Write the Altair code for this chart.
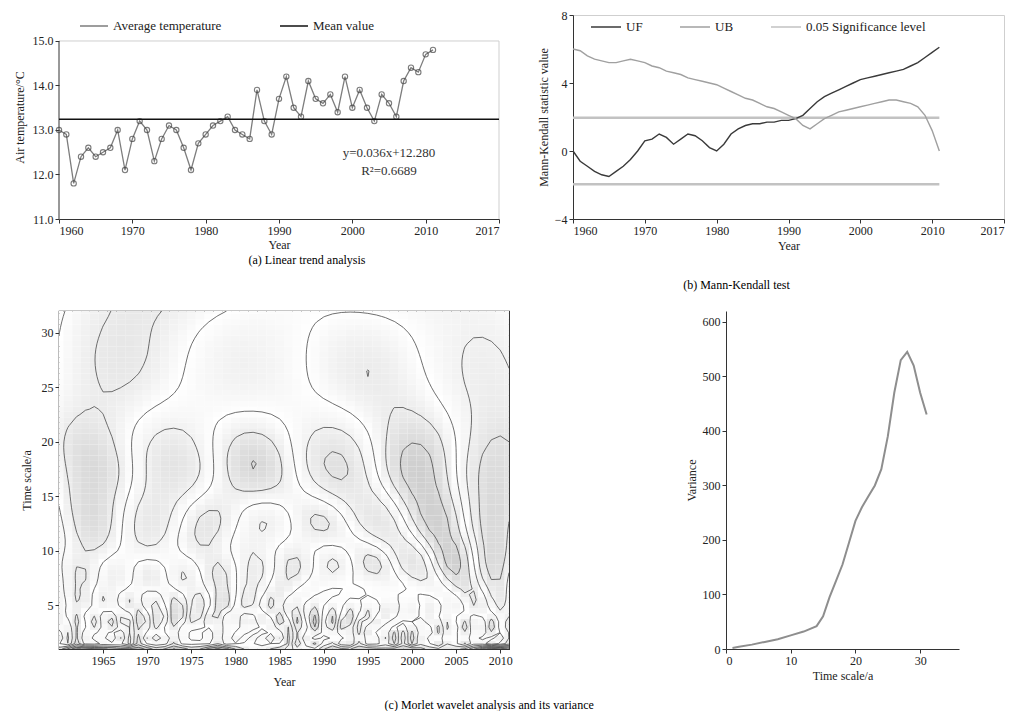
import altair as alt
import numpy as np
import pandas as pd

FONT = "Liberation Serif"

# ---------------- data ----------------
years = list(range(1960, 2012))
temperature = [13.0, 12.9, 11.8, 12.4, 12.6, 12.4, 12.5, 12.6, 13.0, 12.1,
               12.8, 13.2, 13.0, 12.3, 12.8, 13.1, 13.0, 12.6, 12.1, 12.7,
               12.9, 13.1, 13.2, 13.3, 13.0, 12.9, 12.8, 13.9, 13.2, 12.9,
               13.7, 14.2, 13.5, 13.3, 14.1, 13.7, 13.6, 13.8, 13.4, 14.2,
               13.5, 13.9, 13.5, 13.2, 13.8, 13.6, 13.3, 14.1, 14.4, 14.3,
               14.7, 14.8]
uf = [0.0, -0.6, -0.9, -1.2, -1.4, -1.5, -1.2, -0.9, -0.5, 0.0,
      0.6, 0.7, 1.0, 0.8, 0.4, 0.7, 1.0, 0.9, 0.6, 0.2,
      0.0, 0.4, 1.0, 1.3, 1.5, 1.6, 1.6, 1.7, 1.7, 1.8,
      1.8, 1.9, 2.1, 2.5, 2.9, 3.2, 3.4, 3.6, 3.8, 4.0,
      4.2, 4.3, 4.4, 4.5, 4.6, 4.7, 4.8, 5.0, 5.2, 5.5,
      5.8, 6.1]
ub = [6.0, 5.9, 5.6, 5.4, 5.3, 5.2, 5.2, 5.3, 5.4, 5.3,
      5.2, 5.0, 4.9, 4.7, 4.6, 4.5, 4.3, 4.2, 4.1, 4.0,
      3.9, 3.7, 3.5, 3.3, 3.1, 3.0, 2.8, 2.6, 2.5, 2.3,
      2.1, 1.9, 1.5, 1.3, 1.6, 1.9, 2.1, 2.3, 2.4, 2.5,
      2.6, 2.7, 2.8, 2.9, 3.0, 3.0, 2.9, 2.8, 2.6, 2.1,
      1.2, 0.0]
sig_years = [1960, 2011]
sig_levels = [1.96, -1.96]

var_scale = [1, 2, 4, 6, 8, 10, 12, 14, 15, 16, 17, 18, 19, 20, 21, 22,
             23, 24, 25, 26, 27, 28, 29, 30, 31]
variance = [2, 4, 8, 13, 18, 25, 32, 42, 60, 95, 125, 155, 195, 235, 260,
            280, 300, 330, 390, 470, 530, 545, 520, 470, 430]

x_ticks_ab = [1960, 1970, 1980, 1990, 2000, 2010, 2020]
temp_ticks = [11, 11.5, 12, 12.5, 13, 13.5, 14, 14.5, 15]
mk_ticks = [-4, -2, 0, 2, 4, 6, 8]
x_ticks_c = [1965, 1970, 1975, 1980, 1985, 1990, 1995, 2000, 2005, 2010]
scale_ticks_c = [5, 10, 15, 20, 25, 30]

# ---------------- panel (a) ----------------
df_a = pd.DataFrame({"Year": years, "Temperature": temperature,
                     "series_a": "Average temperature"})
idx = np.arange(1, len(temperature) + 1)
T = np.array(temperature)
slope, intercept = np.polyfit(idx, T, 1)
pred = slope * idx + intercept
r2 = 1 - ((T - pred) ** 2).sum() / ((T - T.mean()) ** 2).sum()
eq_text = f"y={slope:.3f}x{'+' if intercept >= 0 else '−'}{abs(intercept):.3f}"
r2_text = f"R²={r2:.4f}"

color_a = alt.Color("series_a:N",
                    scale=alt.Scale(domain=["Average temperature", "Mean value"],
                                    range=["#7d7d7d", "#111111"]),
                    legend=alt.Legend(title=None, orient="none", legendX=20, legendY=-4,
                                      direction="horizontal", symbolType="stroke",
                                      symbolStrokeWidth=1.5, symbolSize=784,
                                      labelFontSize=13, columnPadding=55))
x_a = alt.X("Year:Q", scale=alt.Scale(domain=[1960, 2020], nice=False),
            axis=alt.Axis(values=x_ticks_ab, format="d", title="Year", titlePadding=3,
                          labelExpr="datum.value == 2020 ? '2017' : datum.label"))
# the upper part of the plot (above 15 °C) is the legend strip, as in the figure
y_a = alt.Y("Temperature:Q", scale=alt.Scale(domain=[11, 15.584], nice=False),
            axis=alt.Axis(values=temp_ticks, format=".1f", title="Air temperature/°C",
                          titlePadding=6, domain=False))
one = pd.DataFrame({"k": [0]})
frame_left = alt.Chart(one).mark_rule(color="#333", strokeWidth=1).encode(
    x=alt.value(0), y=alt.datum(temp_ticks[0]), y2=alt.datum(temp_ticks[-1]))
frame_top = alt.Chart(one).mark_rule(color="#cfcfcf", strokeWidth=1).encode(
    y=alt.datum(temp_ticks[-1]))
frame_right = alt.Chart(one).mark_rule(color="#cfcfcf", strokeWidth=1).encode(
    x=alt.datum(x_ticks_ab[-1]), y=alt.datum(temp_ticks[0]), y2=alt.datum(temp_ticks[-1]))
line_a = alt.Chart(df_a).mark_line(strokeWidth=1.3).encode(x=x_a, y=y_a, color=color_a)
pts_a = alt.Chart(df_a).mark_point(shape="circle", filled=False, size=28,
                                   color="#444444", strokeWidth=1.1).encode(x="Year:Q", y="Temperature:Q")
mean_a = alt.Chart(df_a).transform_aggregate(
    m="mean(Temperature)").transform_calculate(series_a="'Mean value'").mark_rule(
    strokeWidth=1.5).encode(y="m:Q", color=color_a)
eq_a = alt.Chart(one).mark_text(fontSize=13, font=FONT, color="#333").encode(
    x=alt.value(330), y=alt.value(138), text=alt.value(eq_text))
r2_a = alt.Chart(one).mark_text(fontSize=13, font=FONT, color="#333").encode(
    x=alt.value(330), y=alt.value(156), text=alt.value(r2_text))

panel_a = alt.layer(line_a, frame_top, frame_right, frame_left, pts_a, mean_a, eq_a, r2_a).properties(
    width=440, height=204,
    view=alt.ViewBackground(stroke=None),
    title=alt.TitleParams("(a) Linear trend analysis", orient="bottom", offset=5,
                          fontSize=12, font=FONT, fontWeight="normal", dx=28))

# ---------------- panel (b) ----------------
df_b = pd.concat([
    pd.DataFrame({"Year": years, "value": uf, "series_b": "UF", "grp": "UF"}),
    pd.DataFrame({"Year": years, "value": ub, "series_b": "UB", "grp": "UB"}),
])
df_sig = pd.concat([
    pd.DataFrame({"Year": sig_years, "value": [lv, lv], "series_b": "0.05 Significance level",
                  "grp": f"s{i}"}) for i, lv in enumerate(sig_levels)
])
color_b = alt.Color("series_b:N",
                    scale=alt.Scale(domain=["UF", "UB", "0.05 Significance level"],
                                    range=["#3a3a3a", "#a0a0a0", "#c2c2c2"]),
                    legend=alt.Legend(title=None, orient="none", legendX=17, legendY=-4,
                                      direction="horizontal", symbolType="stroke",
                                      symbolStrokeWidth=1.5, symbolSize=900,
                                      labelFontSize=13, columnPadding=34))
x_b = alt.X("Year:Q", scale=alt.Scale(domain=[1960, 2020], nice=False),
            axis=alt.Axis(values=x_ticks_ab, format="d", title="Year",
                          labelExpr="datum.value == 2020 ? '2017' : datum.label"))
y_b = alt.Y("value:Q", scale=alt.Scale(domain=[-4, 8], nice=False),
            axis=alt.Axis(values=mk_ticks, title="Mann-Kendall statistic value"))
sig_b = alt.Chart(df_sig).mark_line(strokeWidth=2.5).encode(
    x=x_b, y=y_b, color=color_b, detail="grp:N")
lines_b = alt.Chart(df_b).mark_line(strokeWidth=1.4).encode(
    x="Year:Q", y="value:Q", color=color_b, detail="grp:N")
panel_b = alt.layer(sig_b, lines_b).properties(
    width=431, height=204,
    view=alt.ViewBackground(stroke="#cfcfcf"),
    title=alt.TitleParams("(b) Mann-Kendall test", orient="bottom", offset=29,
                          fontSize=12, font=FONT, fontWeight="normal", dx=-52))

# ---------------- panel (c): Morlet wavelet real part (computed from the series) ----------------
f = T - T.mean()
t = np.array(years, dtype=float)
scales = np.arange(1.0, 32.01, 0.5)
c0 = 6.0
W = np.zeros((len(scales), len(t)))
for si, a in enumerate(scales):
    tau = (t[None, :] - t[:, None]) / a          # rows: b, cols: k
    W[si, :] = (f[None, :] * np.exp(-tau ** 2 / 2) * np.cos(c0 * tau)).sum(axis=1) / np.sqrt(a)
m = np.abs(W).max()

rows = []
for si, a in enumerate(scales):
    for bi, b in enumerate(t):
        rows.append((b - 0.5, b + 0.5, a - 0.25, a + 0.25, W[si, bi]))
df_heat = pd.DataFrame(rows, columns=["x", "x2", "y", "y2", "w"])

step = m / 7.0
levels = [k * step for k in range(-6, 7)]
segs = []
ny, nx = W.shape
for L in levels:
    for j in range(ny - 1):
        for i in range(nx - 1):
            v = [W[j, i], W[j, i + 1], W[j + 1, i + 1], W[j + 1, i]]
            p = [(t[i], scales[j]), (t[i + 1], scales[j]),
                 (t[i + 1], scales[j + 1]), (t[i], scales[j + 1])]
            cr = []
            for k in range(4):
                a1, a2 = v[k], v[(k + 1) % 4]
                if (a1 < L) != (a2 < L):
                    r = (L - a1) / (a2 - a1)
                    p0, p1 = p[k], p[(k + 1) % 4]
                    cr.append((p0[0] + r * (p1[0] - p0[0]), p0[1] + r * (p1[1] - p0[1])))
            if len(cr) == 2:
                segs.append((cr[0][0], cr[0][1], cr[1][0], cr[1][1]))
            elif len(cr) == 4:
                segs.append((cr[0][0], cr[0][1], cr[1][0], cr[1][1]))
                segs.append((cr[2][0], cr[2][1], cr[3][0], cr[3][1]))
df_seg = pd.DataFrame(segs, columns=["x", "y", "x2", "y2"])

x_c = alt.X("x:Q", scale=alt.Scale(domain=[1960, 2011], nice=False),
            axis=alt.Axis(values=x_ticks_c, format="d", title="Year", titlePadding=10))
y_c = alt.Y("y:Q", scale=alt.Scale(domain=[1, 32], nice=False),
            axis=alt.Axis(values=scale_ticks_c, title="Time scale/a", titlePadding=8))
heat_c = alt.Chart(df_heat).mark_rect(clip=True, strokeWidth=0).encode(
    x=x_c, x2="x2:Q", y=y_c, y2="y2:Q",
    color=alt.Color("w:Q", scale=alt.Scale(domain=[-m, 0, m],
                                           range=["#7e7e7e", "#ffffff", "#a2a2a2"]),
                    legend=None))
cont_c = alt.Chart(df_seg).mark_rule(strokeWidth=0.8, color="#4a4a4a", clip=True).encode(
    x="x:Q", y="y:Q", x2="x2:Q", y2="y2:Q")
panel_c = alt.layer(heat_c, cont_c).properties(
    width=450, height=338, view=alt.ViewBackground(stroke="#222222", strokeWidth=1.2))

# ---------------- panel (d): variance ----------------
df_d = pd.DataFrame({"scale": var_scale, "variance": variance})
panel_d = alt.Chart(df_d).mark_line(color="#8e8e8e", strokeWidth=2).encode(
    x=alt.X("scale:Q", scale=alt.Scale(domain=[0, 36], nice=False),
            axis=alt.Axis(values=[0, 10, 20, 30], title="Time scale/a")),
    y=alt.Y("variance:Q", scale=alt.Scale(domain=[0, 620], nice=False),
            axis=alt.Axis(values=[0, 100, 200, 300, 400, 500, 600], title="Variance")),
).properties(width=233, height=338, view=alt.ViewBackground(stroke=None))

top = alt.hconcat(panel_a, panel_b, spacing=36).resolve_scale(color="independent")
bottom = alt.hconcat(panel_c, panel_d, spacing=172).properties(
    title=alt.TitleParams("(c) Morlet wavelet analysis and its variance", orient="bottom",
                          anchor="middle", fontSize=12, font=FONT, fontWeight="normal",
                          offset=12))
chart = alt.vconcat(top, bottom, spacing=18).resolve_scale(
    color="independent"
).configure(
    font=FONT, padding={"left": 5, "top": 0, "right": 2, "bottom": 0}
).configure_axis(
    labelFont=FONT, titleFont=FONT, labelFontSize=12, titleFontSize=12,
    titleFontWeight="normal", grid=False, domainColor="#333", tickColor="#333",
    labelColor="#222", titleColor="#222", tickSize=4
).configure_legend(labelFont=FONT, labelColor="#222")

chart.save("out.html", embed_options={"renderer": "svg", "actions": False})
